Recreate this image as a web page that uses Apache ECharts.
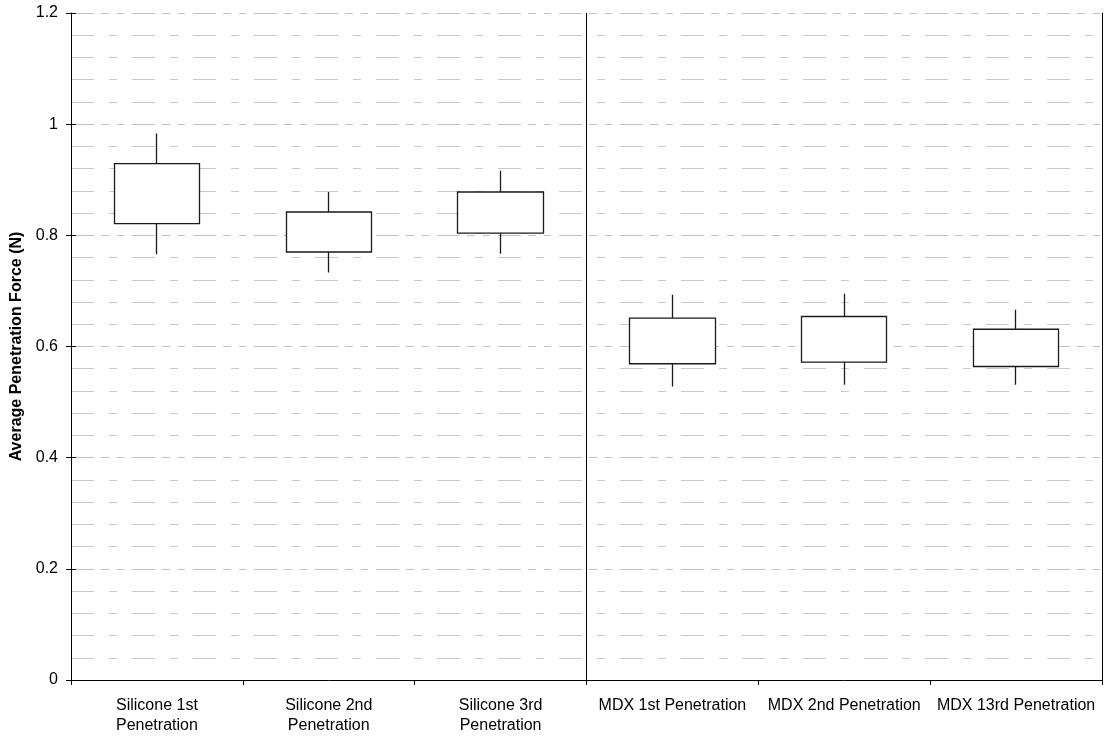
<!DOCTYPE html>
<html>
<head>
<meta charset="utf-8">
<script src="https://cdn.jsdelivr.net/npm/echarts@6/dist/echarts.min.js"></script>
<style>
  html, body { margin: 0; padding: 0; background: #fff; }
  #chart { width: 1107px; height: 736px; }
</style>
</head>
<body>
<div id="chart"></div>
<script>
// Penetration force by material and penetration number
const categories = [
  'Silicone 1st\nPenetration',
  'Silicone 2nd\nPenetration',
  'Silicone 3rd\nPenetration',
  'MDX 1st Penetration',
  'MDX 2nd Penetration',
  'MDX 13rd Penetration'
];
const boxLow   = [0.821, 0.770, 0.804, 0.569, 0.572, 0.564];
const boxHigh  = [0.929, 0.842, 0.878, 0.651, 0.654, 0.631];
const whiskLow = [0.766, 0.733, 0.767, 0.528, 0.531, 0.531];
const whiskHigh= [0.983, 0.878, 0.916, 0.693, 0.695, 0.666];

// Divider between the Silicone and MDX groups (category boundary index)
const groupSplit = 3;

const yMin = 0, yMax = 1.2, yStep = 0.2;
const fontFamily = '"Liberation Sans", Arial, sans-serif';

// candlestick item: [open, close, lowest, highest]
const boxData = categories.map((c, i) => [boxLow[i], boxHigh[i], whiskLow[i], whiskHigh[i]]);

const majorDash = [23, 7, 8, 8, 7, 8];
const minorDash = [23, 15, 8, 15];

const chart = echarts.init(document.getElementById('chart'), null, { renderer: 'canvas' });

const baseY = { type: 'value', min: yMin, max: yMax, interval: yStep };

chart.setOption({
  animation: false,
  backgroundColor: '#fff',
  grid: { left: 71, right: 5, top: 13, bottom: 55 },
  xAxis: [
    {
      type: 'category',
      data: categories,
      boundaryGap: true,
      axisLine: { lineStyle: { color: '#000', width: 1 } },
      axisTick: { show: true, inside: false, length: 5, lineStyle: { color: '#000' } },
      axisLabel: {
        color: '#000', fontSize: 16, fontFamily: fontFamily,
        margin: 16, lineHeight: 20, interval: 0
      },
      splitLine: { show: false }
    },
    {
      type: 'value', min: 0, max: categories.length, show: false
    }
  ],
  yAxis: [
    Object.assign({}, baseY, {
      position: 'left',
      name: 'Average Penetration Force (N)',
      nameLocation: 'middle',
      nameGap: 43,
      nameRotate: 90,
      nameTextStyle: { color: '#000', fontSize: 16, fontWeight: 'bold', fontFamily: fontFamily },
      axisLine: { show: true, lineStyle: { color: '#000', width: 1 } },
      axisTick: { show: true, inside: false, length: 5, lineStyle: { color: '#000' } },
      axisLabel: { color: '#000', fontSize: 16, fontFamily: fontFamily, margin: 13 },
      splitLine: { show: true, lineStyle: { color: '#c0c0c0', width: 1, type: majorDash } },
      minorTick: { show: false, splitNumber: 5 },
      minorSplitLine: { show: true, lineStyle: { color: '#c8c8c8', width: 1, type: minorDash } }
    }),
    // inner half of the crossing ticks on the left axis
    Object.assign({}, baseY, {
      position: 'left',
      axisLine: { show: false },
      axisTick: { show: true, inside: true, length: 5, lineStyle: { color: '#000' } },
      axisLabel: { show: false },
      splitLine: { show: false }
    }),
    // right-hand frame line
    Object.assign({}, baseY, {
      position: 'right',
      axisLine: { show: true, lineStyle: { color: '#000', width: 1 } },
      axisTick: { show: false },
      axisLabel: { show: false },
      splitLine: { show: false }
    })
  ],
  series: [
    {
      type: 'candlestick',
      xAxisIndex: 0,
      yAxisIndex: 0,
      data: boxData,
      barWidth: '50%',
      itemStyle: {
        color: '#fff', color0: '#fff',
        borderColor: '#1a1a1a', borderColor0: '#1a1a1a',
        borderWidth: 1.3
      },
      emphasis: { disabled: true },
      z: 5
    },
    {
      type: 'line',
      xAxisIndex: 1,
      yAxisIndex: 0,
      data: [[groupSplit, yMin], [groupSplit, yMax]],
      symbol: 'none',
      silent: true,
      lineStyle: { color: '#000', width: 1 },
      z: 4
    }
  ]
});
</script>
</body>
</html>
